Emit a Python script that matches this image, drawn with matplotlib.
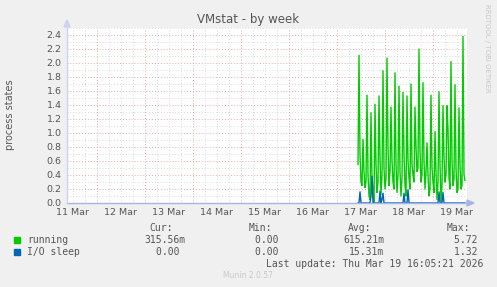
import matplotlib
matplotlib.use("Agg")
import matplotlib.pyplot as plt
from matplotlib.ticker import FixedLocator

W, H = 497, 287

# time axis in days since 11 Mar 00:00, one sample every 30 minutes
t_start = 6.4375          # 17 Mar ~10:30
step = 1 / 48.0

running = [
    0.55,
    2.11, 0.70, 0.30, 0.25,
    0.91, 0.45, 0.22, 0.30,
    1.54, 0.40, 0.10, 0.05,
    1.29, 0.35, 0.20, 0.00,
    1.41, 0.55, 0.15, 0.30,
    1.53, 0.65, 0.12, 0.40,
    1.89, 0.50, 0.20, 0.35,
    2.07, 0.80, 0.25, 0.45,
    1.37, 0.60, 0.30, 0.20,
    1.86, 0.55, 0.15, 0.40,
    1.67, 0.45, 0.10, 0.35,
    1.58, 0.70, 0.25, 0.10,
    1.53, 0.60, 0.35, 0.20,
    1.70, 0.55, 0.40, 0.30,
    1.37, 0.80, 0.45, 0.50,
    2.20, 0.75, 0.30, 0.40,
    1.72, 0.60, 0.20, 0.45,
    0.86, 0.40, 0.10, 0.20,
    1.54, 0.50, 0.30, 0.15,
    1.02, 0.45, 0.05, 0.30,
    1.59, 0.55, 0.00, 0.25,
    1.39, 0.65, 0.30, 0.40,
    1.39, 1.05, 0.35, 0.20,
    2.02, 0.60, 0.25, 0.35,
    1.69, 0.50, 0.15, 0.20,
    1.36, 0.55, 0.20, 0.25,
    2.38, 0.40, 0.32,
]

io_sleep = [
    0.00, 0.00, 0.16, 0.00, 0.00, 0.00, 0.00, 0.00, 0.00, 0.00,
    0.00, 0.00, 0.00, 0.10, 0.38, 0.00, 0.00, 0.00, 0.00, 0.00,
    0.00, 0.00, 0.17, 0.00, 0.05, 0.14, 0.00, 0.00, 0.00, 0.00,
    0.00, 0.00, 0.00, 0.00, 0.00, 0.00, 0.00, 0.00, 0.00, 0.00,
    0.00, 0.00, 0.00, 0.00, 0.00, 0.00, 0.14, 0.00, 0.00, 0.00,
    0.19, 0.00, 0.00, 0.00, 0.00, 0.00, 0.00, 0.00, 0.00, 0.00,
    0.00, 0.00, 0.00, 0.00, 0.00, 0.00, 0.00, 0.00, 0.00, 0.00,
    0.00, 0.00, 0.00, 0.00, 0.00, 0.00, 0.00, 0.00, 0.00, 0.00,
    0.00, 0.16, 0.00, 0.00, 0.00, 0.15, 0.00, 0.00, 0.00, 0.00,
    0.00, 0.00, 0.00, 0.00, 0.00, 0.00, 0.00, 0.00, 0.00, 0.00,
    0.00, 0.00, 0.00, 0.00, 0.00, 0.00, 0.00, 0.00,
]

day_labels = ["11 Mar", "12 Mar", "13 Mar", "14 Mar", "15 Mar",
              "16 Mar", "17 Mar", "18 Mar", "19 Mar"]

legend_names = ["running", "I/O sleep"]
legend_colors = ["#00CC00", "#0066B3"]
cur_vals = ["315.56m", "0.00 "]
min_vals = ["0.00 ", "0.00 "]
avg_vals = ["615.21m", "15.31m"]
max_vals = ["5.72 ", "1.32 "]

t_run = [t_start + i * step for i in range(len(running))]
t_io = [t_start + i * step for i in range(len(io_sleep))]

x0, x1 = 0.375, 0.375 + 400 / 48.0

fig = plt.figure(figsize=(W / 100, H / 100), dpi=100, facecolor="#F0F0F0")


def px(x, y):
    return x / W, 1 - y / H


ax = fig.add_axes([67 / W, (H - 203) / H, 400 / W, 175 / H])
ax.set_facecolor("white")
ax.set_xlim(x0, x1)
ax.set_ylim(0, 2.5)

# grid: minor grey, major red
RED, GREY = "#EAA8A8", "#DADADA"
for v in [i * 0.1 for i in range(1, 26)]:
    major = abs((v / 0.2) - round(v / 0.2)) < 1e-6
    ax.axhline(v, color=RED if major else GREY, lw=0.7,
               ls=(0, (1, 2)), zorder=1)
q = 0.25
while q < x1:
    major = abs(q - round(q)) < 1e-6
    if q > x0:
        ax.axvline(q, color=RED if major else GREY, lw=0.7,
                   ls=(0, (1, 2)), zorder=1)
    q += 0.25

ax.plot(t_run, running, color=legend_colors[0], lw=1.0, zorder=3)
ax.plot(t_io, io_sleep, color=legend_colors[1], lw=1.0, zorder=4)

for s in ax.spines.values():
    s.set_visible(False)
ax.axhline(0, color="#A8B4E8", lw=1.0, zorder=5, clip_on=False)
ax.axvline(x0, color="#CCD2F0", lw=1.0, zorder=5, clip_on=False)

# arrows on the axes
fig.patches.append(plt.Polygon([px(64, 27), px(70, 27), px(67, 20)],
                               closed=True, color="#CCD2F0",
                               transform=fig.transFigure))
fig.patches.append(plt.Polygon([px(467, 200), px(467, 206), px(474, 203)],
                               closed=True, color="#A8B4E8",
                               transform=fig.transFigure))

ax.set_yticks([i * 0.2 for i in range(13)])
ax.set_yticklabels(["%.1f" % (i * 0.2) for i in range(13)])
ax.xaxis.set_major_locator(FixedLocator([d + 0.5 for d in range(9)]))
ax.set_xticklabels(day_labels)
ax.tick_params(axis="both", length=0, labelsize=6.8, colors="#555555")
ax.tick_params(axis="x", pad=3.5)
ax.tick_params(axis="y", pad=4)

fig.text(*px(248, 20), "VMstat - by week", ha="center", va="center",
         fontsize=8.5, color="#555555")
fig.text(*px(10, 115), "process states", ha="center", va="center",
         rotation=90, fontsize=7, color="#555555")
fig.text(*px(487, 48), "RRDTOOL / TOBI OETIKER", ha="center", va="center",
         rotation=270, fontsize=5, color="#C8C8C8")

mono = dict(family="DejaVu Sans Mono", fontsize=7, color="#555555",
            va="center")

fig.text(*px(173, 228), "Cur:", ha="right", **mono)
fig.text(*px(272, 228), "Min:", ha="right", **mono)
fig.text(*px(371, 228), "Avg:", ha="right", **mono)
fig.text(*px(470, 228), "Max:", ha="right", **mono)

for row, name in enumerate(legend_names):
    y = 240 + row * 12
    fig.patches.append(plt.Rectangle(px(14, y + 3), 6 / W, 6 / H,
                                     color=legend_colors[row],
                                     transform=fig.transFigure))
    fig.text(*px(27, y), name, ha="left", **mono)
    fig.text(*px(185, y), cur_vals[row], ha="right", **mono)
    fig.text(*px(284, y), min_vals[row], ha="right", **mono)
    fig.text(*px(384, y), avg_vals[row], ha="right", **mono)
    fig.text(*px(483, y), max_vals[row], ha="right", **mono)

fig.text(*px(483, 264), "Last update: Thu Mar 19 16:05:21 2026", ha="right",
         **mono)
fig.text(*px(248, 276), "Munin 2.0.57", ha="center", va="center",
         fontsize=5.5, color="#C8C8C8")

fig.savefig("out.png", dpi=100, facecolor=fig.get_facecolor())
